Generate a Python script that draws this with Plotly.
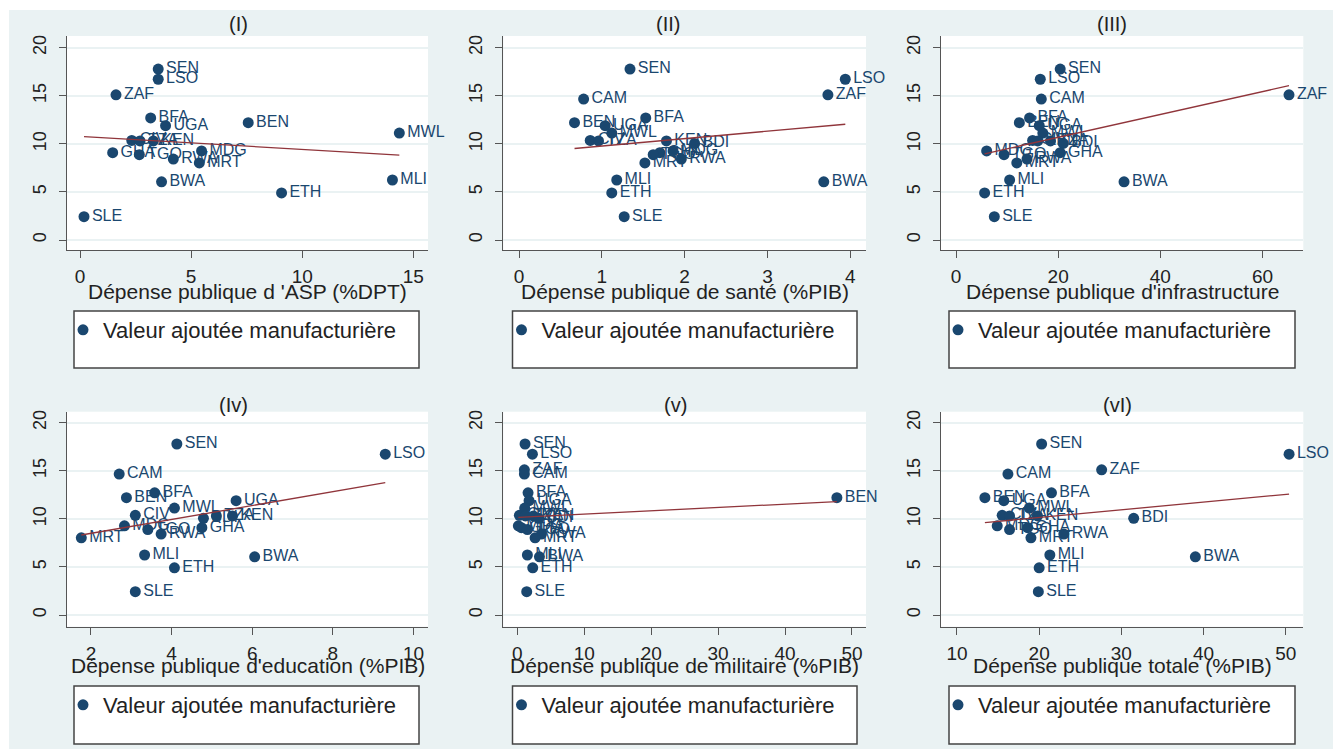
import plotly.graph_objects as go

# ---------------- data ----------------
countries = ["SEN", "LSO", "ZAF", "CAM", "BFA", "BEN", "UGA", "MWL", "CIV", "TZA",
             "KEN", "BDI", "MDG", "GHA", "TGO", "RWA", "MRT", "MLI", "BWA", "ETH", "SLE"]
valeur_ajoutee = [17.78, 16.72, 15.10, 14.66, 12.70, 12.20, 11.89, 11.12, 10.36, 10.30,
                  10.30, 10.05, 9.27, 9.08, 8.88, 8.42, 8.02, 6.24, 6.05, 4.90, 2.43]

dep_asp = [3.52, 3.52, 1.62, None, 3.18, 7.57, 3.85, 14.37, 2.33, 2.70,
           3.30, None, 5.47, 1.47, 2.67, 4.20, 5.37, 14.06, 3.67, 9.07, 0.18]
dep_sante = [1.34, 3.94, 3.73, 0.78, 1.53, 0.67, 1.04, 1.12, 0.86, 0.96,
             1.78, 2.12, 1.86, 1.70, 1.62, 1.96, 1.52, 1.18, 3.68, 1.12, 1.27]
dep_infra = [20.4, 16.5, 65.2, 16.7, 14.4, 12.4, 16.3, 17.0, 15.0, 18.5,
             16.0, 21.0, 6.0, 20.4, 9.4, 13.9, 11.9, 10.5, 32.9, 5.6, 7.5]
dep_education = [4.13, 9.30, None, 2.70, 3.58, 2.88, 5.60, 4.07, 3.10, 5.11,
                 5.51, 4.79, 2.83, 4.75, 3.41, 3.74, 1.76, 3.33, 6.06, 4.07, 3.10]
dep_militaire = [1.15, 2.25, 1.05, 1.05, 1.60, 47.75, 1.75, 1.10, 0.30, 1.20,
                 2.40, 3.20, 0.15, 0.60, 1.50, 3.60, 2.65, 1.50, 3.30, 2.30, 1.40]
dep_totale = [20.3, 50.4, 27.6, 16.2, 21.5, 13.4, 15.7, 18.8, 15.5, 16.4,
              19.8, 31.5, 14.9, 18.6, 16.4, 23.0, 19.0, 21.3, 39.0, 20.0, 19.9]

# linear fits as drawn (intercept, slope)
fit_intercept = [10.78, 9.00, 8.30, 7.05, 10.14, 8.53]
fit_slope = [-0.1355, 0.772, 0.1189, 0.7215, 0.0347, 0.0802]

panel_titles = ["(I)", "(II)", "(III)", "(Iv)", "(v)", "(vI)"]
x_titles = ["Dépense publique d 'ASP (%DPT)", "Dépense publique de santé (%PIB)",
            "Dépense publique d'infrastructure", "Dépense publique d'education (%PIB)",
            "Dépense publique de militaire (%PIB)", "Dépense publique totale (%PIB)"]
x_ticks = [[0, 5, 10, 15], [0, 1, 2, 3, 4], [0, 20, 40, 60],
           [2, 4, 6, 8, 10], [0, 10, 20, 30, 40, 50], [10, 20, 30, 40, 50]]
y_ticks = [0, 5, 10, 15, 20]
serie_name = "Valeur ajoutée manufacturière"

# ---------------- layout geometry ----------------
W, H = 1333, 749
x_ranges = [[-0.585, 15.66], [-0.19, 4.19], [-2.94, 68.0],
            [1.405, 10.36], [-2.1, 52.1], [8.06, 52.13]]
y_ranges = [[-1.04, 21.22]] * 3 + [[-1.217, 21.14]] * 3
px_cols = [(67, 428), (503.3, 866), (941, 1303.3)]
px_rows = [(36, 250), (411.7, 626.7)]
box_cols = [(74, 419), (512.5, 857), (949, 1295)]
box_rows = [(311, 368), (686, 744)]
title_x = [238, 668, 1112, 233, 676, 1117]
title_y = [24, 405]
xtitle_y = [291, 665]

NAVY = "#1a476f"
RED = "#90353b"
BG = "#eaf2f3"
FONT = "Liberation Sans, Arial, sans-serif"

xs_all = [dep_asp, dep_sante, dep_infra, dep_education, dep_militaire, dep_totale]

fig = go.Figure()
layout = dict(
    width=W, height=H, margin=dict(l=0, r=0, t=0, b=0),
    paper_bgcolor=BG, plot_bgcolor="white",
    font=dict(family=FONT, color="#222"),
    shapes=[], annotations=[],
)

for i in range(6):
    r, c = divmod(i, 3)
    n = "" if i == 0 else str(i + 1)
    xa, ya = "x" + n, "y" + n
    x0, x1 = px_cols[c]
    t0, t1 = px_rows[r]
    xs = xs_all[i]

    fig.add_trace(go.Scatter(
        x=xs, y=valeur_ajoutee, text=countries, mode="markers+text",
        textposition="middle right", cliponaxis=False,
        textfont=dict(size=16, color=NAVY, family=FONT),
        marker=dict(size=11, color=NAVY),
        name=serie_name, legend="legend" + n, showlegend=True,
        xaxis=xa, yaxis=ya,
    ))
    valid = [v for v in xs if v is not None]
    lx = [min(valid), max(valid)]
    ly = [fit_intercept[i] + fit_slope[i] * v for v in lx]
    fig.add_trace(go.Scatter(
        x=lx, y=ly, mode="lines", line=dict(color=RED, width=1.3),
        showlegend=False, hoverinfo="skip", xaxis=xa, yaxis=ya,
    ))

    layout["xaxis" + n] = dict(
        domain=[x0 / W, x1 / W], range=x_ranges[i], anchor=ya,
        tickmode="array", tickvals=x_ticks[i], showgrid=False, zeroline=False,
        showline=True, linecolor="#555", linewidth=1, ticks="outside", ticklen=7,
        tickcolor="#555", tickfont=dict(size=19, color="#222"), ticklabelstandoff=2,
        automargin=False,
    )
    layout["yaxis" + n] = dict(
        domain=[1 - t1 / H, 1 - t0 / H], range=y_ranges[i], anchor=xa,
        tickmode="array", tickvals=y_ticks, showgrid=True, gridcolor=BG, gridwidth=1.5,
        zeroline=False, showline=True, linecolor="#555", linewidth=1,
        ticks="outside", ticklen=7, tickcolor="#555", tickangle=-90,
        tickfont=dict(size=18, color="#222"), ticklabelstandoff=6, automargin=False,
    )
    # panel title
    layout["annotations"].append(dict(
        text=panel_titles[i], x=title_x[i] / W, y=1 - title_y[r] / H,
        xref="paper", yref="paper", showarrow=False, xanchor="center", yanchor="middle",
        font=dict(size=20, color="#222"),
    ))
    # x-axis title
    layout["annotations"].append(dict(
        text=x_titles[i], x=(x0 + x1) / 2 / W, y=1 - xtitle_y[r] / H,
        xref="paper", yref="paper", showarrow=False, xanchor="center", yanchor="middle",
        font=dict(size=21, color="#222"),
    ))
    bx0, bx1 = box_cols[c]
    by0, by1 = box_rows[r]
    layout["shapes"].append(dict(
        type="rect", xref="paper", yref="paper", layer="below",
        x0=bx0 / W, x1=bx1 / W, y0=1 - by1 / H, y1=1 - by0 / H,
        fillcolor="white", line=dict(color="#444", width=1.5),
    ))
    layout["legend" + n] = dict(
        x=(bx0 - 11) / W, y=1 - (by0 + 19) / H, xanchor="left", yanchor="middle",
        bgcolor="rgba(0,0,0,0)", borderwidth=0,
        font=dict(size=22, color="#222", family=FONT),
    )

# white strips at the top and left edges
layout["shapes"].append(dict(type="rect", xref="paper", yref="paper", layer="below",
                             x0=0, x1=1, y0=1 - 10 / H, y1=1, fillcolor="white", line=dict(width=0)))
layout["shapes"].append(dict(type="rect", xref="paper", yref="paper", layer="below",
                             x0=0, x1=9 / W, y0=0, y1=1, fillcolor="white", line=dict(width=0)))

fig.update_layout(**layout)
fig.write_html("out.html", config={"displayModeBar": False},
               post_script="document.body.style.margin='0px';document.body.style.overflow='hidden';")
